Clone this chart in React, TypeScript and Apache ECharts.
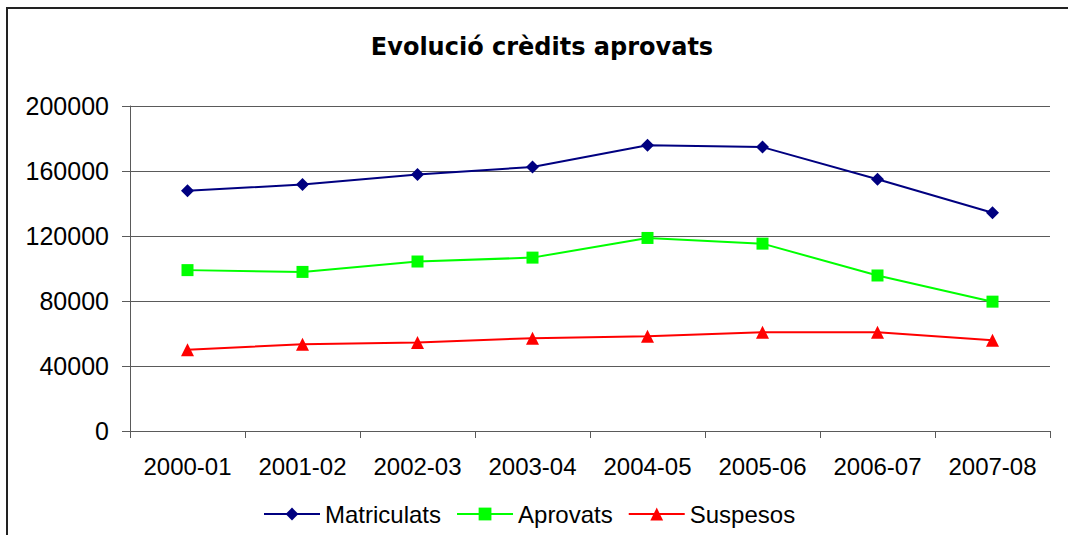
import React, { useEffect, useRef } from "react";
import * as echarts from "echarts";

const title = "Evolució crèdits aprovats";
const categories = ["2000-01", "2001-02", "2002-03", "2003-04", "2004-05", "2005-06", "2006-07", "2007-08"];
const matriculats = [147800, 151700, 157800, 162500, 175900, 174700, 154900, 134300];
const aprovats = [99000, 97900, 104300, 106700, 118800, 115300, 95700, 79600];
const suspesos = [50000, 53400, 54500, 57100, 58300, 60800, 60800, 55900];
const seriesNames = ["Matriculats", "Aprovats", "Suspesos"];

export default function App() {
  const ref = useRef<HTMLDivElement>(null);
  useEffect(() => {
    if (!ref.current) return;
    const chart = echarts.init(ref.current, null, { renderer: "svg" });
    const font = "'Liberation Sans', Arial, sans-serif";
    chart.setOption({
      animation: false,
      backgroundColor: "#ffffff",
      textStyle: { fontFamily: font },
      title: {
        text: title,
        left: 537,
        top: 30,
        textAlign: "center",
        textStyle: { fontFamily: "'DejaVu Sans', sans-serif", fontSize: 24, fontWeight: "bold", color: "#000" },
      },
      graphic: [
        {
          type: "rect",
          shape: { x: 7, y: 8, width: 1200, height: 1000 },
          style: { fill: "none", stroke: "#222", lineWidth: 2 },
          silent: true,
        },
      ],
      legend: {
        left: 258,
        top: 497,
        itemWidth: 56,
        itemHeight: 16,
        itemGap: 15,
        textStyle: { fontFamily: font, fontSize: 24, color: "#000" },
        data: seriesNames,
      },
      grid: { left: 130, right: 18, top: 106, bottom: 104, containLabel: false },
      xAxis: {
        type: "category",
        data: categories,
        boundaryGap: true,
        axisLine: { lineStyle: { color: "#5a5a5a", width: 1 } },
        axisTick: { show: true, length: 7, lineStyle: { color: "#5a5a5a" } },
        axisLabel: { fontFamily: font, fontSize: 24, color: "#000", margin: 23 },
      },
      yAxis: {
        type: "value",
        min: 0,
        max: 200000,
        interval: 40000,
        axisLine: { show: true, lineStyle: { color: "#5a5a5a", width: 1 } },
        axisTick: { show: true, length: 8, lineStyle: { color: "#5a5a5a" } },
        splitLine: { show: true, lineStyle: { color: "#5a5a5a", width: 1 } },
        axisLabel: {
          fontFamily: font,
          fontSize: 25,
          color: "#000",
          margin: 21,
          formatter: (v: number) => String(v),
        },
      },
      series: [
        {
          name: seriesNames[0],
          type: "line",
          data: matriculats,
          symbol: "diamond",
          symbolSize: 13,
          color: "#000080",
          lineStyle: { width: 2, color: "#000080" },
          itemStyle: { color: "#000080" },
        },
        {
          name: seriesNames[1],
          type: "line",
          data: aprovats,
          symbol: "rect",
          symbolSize: 12,
          color: "#00ff00",
          lineStyle: { width: 2, color: "#00ff00" },
          itemStyle: { color: "#00ff00" },
        },
        {
          name: seriesNames[2],
          type: "line",
          data: suspesos,
          symbol: "triangle",
          symbolSize: 13,
          color: "#ff0000",
          lineStyle: { width: 2, color: "#ff0000" },
          itemStyle: { color: "#ff0000" },
        },
      ],
    });
    return () => chart.dispose();
  }, []);
  return (
    <div
      ref={ref}
      style={{ position: "absolute", left: 0, top: 0, width: 1068, height: 535 }}
    />
  );
}
